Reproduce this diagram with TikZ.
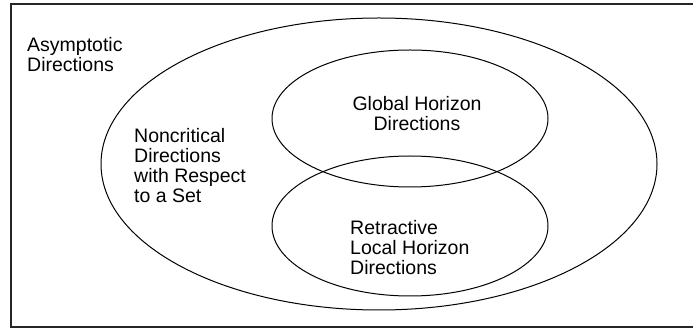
\documentclass[tikz,border=0pt]{standalone}
\usepackage{fontspec}
\setmainfont{Liberation Sans}
\usetikzlibrary{shapes.geometric}
\tikzset{
  setshape/.style={draw=black, ellipse, line width=1pt, inner sep=0pt},
  lbl/.style={inner sep=0pt, font=\fontsize{19.5}{20}\selectfont, text=black},
}
\begin{document}
\begin{tikzpicture}[x=1pt, y=-1pt]
\useasboundingbox (0,0) rectangle (693,328);
\clip (0,0) rectangle (693,328);
\node[draw=black!85, line width=1.8pt, inner sep=0pt, minimum width=700pt, minimum height=323pt, anchor=north west] (frame) at (10,3) {};
\node[setshape, minimum width=556pt, minimum height=292pt] (asym) at (379,164) {};
\node[setshape, minimum width=276pt, minimum height=137pt] (glob) at (410,118.5) {};
\node[setshape, minimum width=276pt, minimum height=140pt] (retr) at (410,226) {};
\node[lbl, anchor=north west, align=left] (tasym) at (27,37) {Asymptotic\\Directions};
\node[lbl, anchor=north west, align=left] (tnon) at (134,128) {Noncritical\\Directions\\with Respect\\to a Set};
\node[lbl, anchor=north, align=center] (tglob) at (417,96) {Global Horizon\\Directions};
\node[lbl, anchor=north west, align=left] (tretr) at (350,220) {Retractive\\Local Horizon\\Directions};
\end{tikzpicture}
\end{document}
